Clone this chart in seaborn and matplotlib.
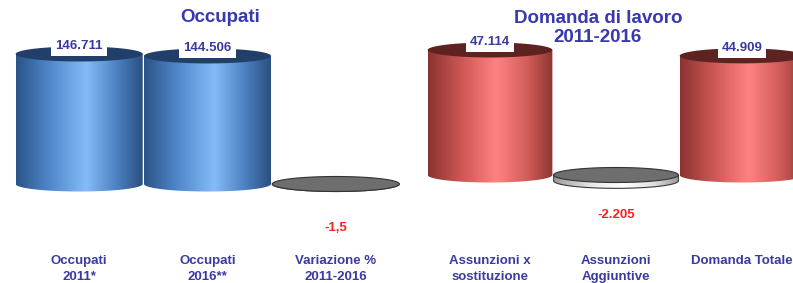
import numpy as np
import pandas as pd
import matplotlib
matplotlib.use('Agg')
import matplotlib.pyplot as plt
import seaborn as sns
from matplotlib.colors import LinearSegmentedColormap
from matplotlib.patches import Polygon

# ---------------- data ----------------
left_categories = ["Occupati\n2011*", "Occupati\n2016**", "Variazione %\n2011-2016"]
left_values = [146711, 144506, -1.5]
left_labels = ["146.711", "144.506", "-1,5"]
left_title = "Occupati"

right_categories = ["Assunzioni x\nsostituzione", "Assunzioni\nAggiuntive", "Domanda Totale"]
right_values = [47114, -2205, 44909]
right_labels = ["47.114", "-2.205", "44.909"]
right_title = "Domanda di lavoro\n2011-2016"

# ---------------- style ----------------
sns.set_theme(style='white')
plt.rcParams['font.family'] = ['Liberation Sans', 'DejaVu Sans']

W, H = 793, 283
fig = plt.figure(figsize=(W / 100, H / 100), dpi=100)
fig.patch.set_facecolor('white')

def px_axes(x0, x1, y0, y1):
    return fig.add_axes([x0 / W, 1 - y1 / H, (x1 - x0) / W, (y1 - y0) / H])

LABEL_COLOR = '#3a3aa0'
TITLE_COLOR = '#3838b0'
NEG_COLOR = '#ff1f1f'

blue_cmap = LinearSegmentedColormap.from_list('blue', [
    (0.0, '#2b5488'), (0.25, '#4e85c8'), (0.55, '#84bbf8'), (0.8, '#4b7ebe'), (1.0, '#2a4d7d')])
red_cmap = LinearSegmentedColormap.from_list('red', [
    (0.0, '#8a3330'), (0.25, '#c95552'), (0.55, '#ff8282'), (0.8, '#d15d5a'), (1.0, '#8c3532')])
grey_cmap = LinearSegmentedColormap.from_list('grey', [
    (0.0, '#9a9a9a'), (0.3, '#e8e8e8'), (0.55, '#ffffff'), (0.8, '#e0e0e0'), (1.0, '#9a9a9a')])


def ell(cx, cy, rx, ry, t0, t1, n=80):
    t = np.linspace(t0, t1, n)
    return np.column_stack([cx + rx * np.cos(t), cy + ry * np.sin(t)])


def panel(ax, cats, vals, labels, cmap, top_color, base_px, bar_px, neg_offset_px):
    df = pd.DataFrame({'cat': cats, 'val': vals})
    sns.barplot(data=df, x='cat', y='val', ax=ax, width=0.99, color='white', errorbar=None)
    s = max(vals) / bar_px            # data units per pixel
    ry = 7.5 * s
    for patch, v, lab in zip(ax.patches, vals, labels):
        x0 = patch.get_x(); w = patch.get_width()
        cx, rx = x0 + w / 2, w / 2
        y0 = patch.get_y(); y1 = y0 + patch.get_height()
        lo, hi = min(y0, y1), max(y0, y1)
        patch.set_visible(False)
        body = np.vstack([[[x0, hi], [x0 + w, hi]], ell(cx, lo, rx, ry, 0, -np.pi)])
        neg = v < 0
        poly = Polygon(body, closed=True, facecolor='none',
                       edgecolor='#3a3a3a' if neg else 'none', lw=0.8 if neg else 0,
                       transform=ax.transData, zorder=3)
        ax.add_patch(poly)
        clip = Polygon(body, closed=True, transform=ax.transData, visible=False)
        ax.add_patch(clip)
        grad = np.linspace(0, 1, 256).reshape(1, -1)
        im = ax.imshow(grad, extent=[x0, x0 + w, lo - ry, hi], aspect='auto',
                       cmap=grey_cmap if neg else cmap, origin='lower',
                       interpolation='bilinear', zorder=2)
        im.set_clip_path(clip)
        top = Polygon(ell(cx, hi, rx, ry, 0, 2 * np.pi), closed=True,
                      facecolor='#6e6e6e' if neg else top_color,
                      edgecolor='#333333' if neg else 'none', lw=0.8 if neg else 0,
                      zorder=4)
        ax.add_patch(top)
        if neg:
            ax.annotate(lab, (cx, lo), xytext=(0, -neg_offset_px * 0.72),
                        textcoords='offset points', ha='center', va='center',
                        fontsize=9.5, fontweight='bold', color=NEG_COLOR, zorder=6)
        else:
            ax.annotate(lab, (cx, hi), xytext=(0, 5.5), textcoords='offset points',
                        ha='center', va='center', fontsize=9.5, fontweight='bold',
                        color=LABEL_COLOR, zorder=6,
                        bbox=dict(boxstyle='square,pad=0.3', fc='white', ec='none'))
    ax.set_xlim(-0.5, 2.5)
    ax.set_ylim(-base_px * s, (180 - base_px) * s)
    ax.set_yticks([])
    ax.set_xlabel('')
    ax.set_ylabel('')
    for sp in ax.spines.values():
        sp.set_visible(False)
    ax.set_facecolor('none')
    ax.tick_params(axis='x', length=0, pad=39.5, labelsize=9.5, labelcolor=LABEL_COLOR)
    for t in ax.get_xticklabels():
        t.set_fontweight('bold')
        t.set_linespacing(1.5)


ax1 = px_axes(15, 400, 20, 200)
panel(ax1, left_categories, left_values, left_labels, blue_cmap, '#213f68',
      base_px=16, bar_px=130, neg_offset_px=44)

ax2 = px_axes(427, 805, 20, 200)
panel(ax2, right_categories, right_values, right_labels, red_cmap, '#5e2321',
      base_px=25, bar_px=125, neg_offset_px=34)

fig.text(220 / W, 1 - 18 / H, left_title, ha='center', va='center',
         fontsize=13.5, fontweight='bold', color=TITLE_COLOR)
fig.text(598 / W, 1 - 28 / H, right_title, ha='center', va='center',
         fontsize=13.5, fontweight='bold', color=TITLE_COLOR, linespacing=1.1)

fig.savefig('out.png', dpi=100, facecolor='white')
